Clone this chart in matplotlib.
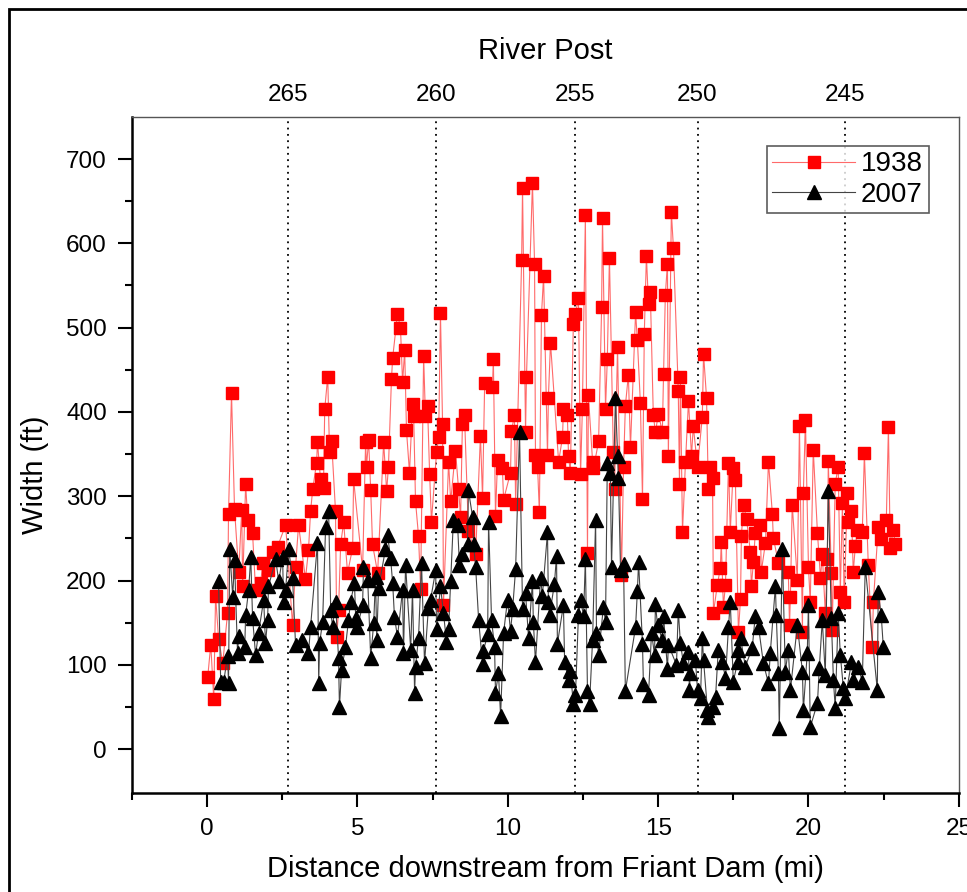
import numpy as np
import matplotlib
matplotlib.use('Agg')
import matplotlib.pyplot as plt
from matplotlib.patches import Rectangle

plt.rcParams['font.family'] = ['Liberation Sans', 'DejaVu Sans']

# 1938 widths (ft) vs distance downstream of Friant Dam (mi)
mi_1938 = [0.02, 0.12, 0.22, 0.28, 0.38, 0.52, 0.68, 0.71, 0.81, 0.91, 1.05, 1.15, 1.18, 1.28, 1.35,
           1.51, 1.61, 1.78, 1.85, 2.01, 2.18, 2.34, 2.61, 2.84, 2.94, 3.04, 3.27, 3.37, 3.44, 3.51,
           3.64, 3.67, 3.77, 3.87, 3.91, 4.01, 4.07, 4.14, 4.27, 4.31, 4.37, 4.44, 4.54, 4.67, 4.84,
           4.87, 5.17, 5.27, 5.30, 5.37, 5.44, 5.50, 5.67, 5.87, 5.97, 6.03, 6.13, 6.17, 6.33, 6.43,
           6.50, 6.57, 6.63, 6.73, 6.83, 6.87, 6.93, 7.03, 7.10, 7.20, 7.26, 7.33, 7.40, 7.46, 7.63,
           7.70, 7.76, 7.83, 7.86, 8.03, 8.10, 8.26, 8.36, 8.43, 8.49, 8.56, 8.69, 8.93, 9.09, 9.16,
           9.23, 9.49, 9.52, 9.59, 9.66, 9.82, 9.86, 10.09, 10.12, 10.22, 10.26, 10.46, 10.49, 10.59, 10.62,
           10.82, 10.89, 10.92, 10.99, 11.05, 11.12, 11.19, 11.32, 11.35, 11.42, 11.69, 11.82, 11.85, 11.98, 12.02,
           12.08, 12.18, 12.25, 12.35, 12.42, 12.48, 12.58, 12.65, 12.68, 12.82, 12.85, 13.02, 13.12, 13.15, 13.25,
           13.31, 13.38, 13.51, 13.55, 13.65, 13.78, 13.85, 13.91, 14.01, 14.08, 14.25, 14.31, 14.41, 14.48, 14.54,
           14.61, 14.68, 14.74, 14.84, 14.91, 15.01, 15.14, 15.18, 15.24, 15.31, 15.34, 15.44, 15.51, 15.67, 15.71,
           15.74, 15.81, 15.91, 16.01, 16.11, 16.17, 16.31, 16.47, 16.51, 16.61, 16.67, 16.74, 16.81, 16.84, 16.97,
           17.07, 17.10, 17.17, 17.24, 17.34, 17.40, 17.50, 17.57, 17.67, 17.74, 17.77, 17.84, 17.94, 18.07, 18.10,
           18.17, 18.23, 18.40, 18.43, 18.57, 18.67, 18.80, 18.83, 19.00, 19.33, 19.37, 19.40, 19.46, 19.63, 19.70,
           19.80, 19.83, 19.90, 20.00, 20.06, 20.16, 20.30, 20.40, 20.46, 20.56, 20.63, 20.66, 20.76, 20.79, 20.89,
           20.99, 21.06, 21.13, 21.19, 21.29, 21.33, 21.43, 21.49, 21.56, 21.63, 21.79, 21.86, 21.99, 22.12, 22.16,
           22.32, 22.42, 22.59, 22.66, 22.72, 22.82, 22.89]
w_1938 = [86, 124, 59, 182, 131, 102, 162, 279, 422, 285, 210, 284, 193, 314, 272,
          256, 189, 197, 221, 213, 234, 240, 266, 147, 216, 266, 202, 236, 282, 308,
          340, 364, 320, 310, 403, 442, 353, 365, 282, 133, 165, 243, 269, 209, 239,
          320, 213, 364, 335, 367, 307, 243, 209, 364, 306, 335, 439, 464, 516, 500,
          435, 473, 378, 328, 409, 395, 294, 253, 190, 466, 395, 407, 326, 270, 352,
          370, 517, 386, 171, 341, 294, 354, 309, 275, 386, 396, 259, 231, 372, 298,
          434, 430, 463, 277, 343, 333, 296, 328, 377, 396, 291, 580, 666, 376, 441,
          671, 576, 349, 335, 281, 515, 561, 349, 417, 482, 341, 370, 404, 396, 348,
          328, 504, 516, 535, 326, 403, 633, 233, 420, 341, 333, 365, 524, 630, 404,
          463, 583, 352, 309, 477, 207, 335, 407, 444, 358, 518, 485, 410, 297, 493,
          585, 528, 542, 396, 376, 398, 376, 445, 539, 576, 348, 637, 594, 425, 315,
          441, 258, 341, 413, 348, 383, 335, 394, 469, 417, 308, 335, 322, 162, 195,
          215, 246, 169, 195, 340, 258, 334, 319, 139, 178, 253, 290, 273, 234, 193,
          222, 256, 266, 210, 245, 341, 279, 251, 221, 210, 147, 181, 290, 201, 383,
          139, 304, 390, 216, 174, 355, 256, 203, 231, 162, 225, 342, 209, 141, 315,
          335, 186, 292, 175, 304, 269, 282, 210, 241, 260, 257, 351, 219, 121, 175,
          263, 249, 272, 382, 238, 260, 243]

# 2007 widths (ft)
mi_2007 = [0.38, 0.45, 0.55, 0.68, 0.71, 0.75, 0.85, 0.91, 1.01, 1.05, 1.25, 1.28, 1.38, 1.45, 1.51,
           1.61, 1.71, 1.88, 1.94, 2.01, 2.04, 2.28, 2.38, 2.51, 2.54, 2.61, 2.71, 2.84, 2.94, 3.17,
           3.37, 3.44, 3.67, 3.71, 3.74, 3.84, 3.94, 4.04, 4.11, 4.17, 4.27, 4.37, 4.40, 4.47, 4.60,
           4.70, 4.77, 4.90, 4.94, 5.00, 5.17, 5.20, 5.34, 5.44, 5.54, 5.60, 5.64, 5.70, 5.93, 6.00,
           6.10, 6.17, 6.23, 6.33, 6.50, 6.53, 6.60, 6.77, 6.83, 6.90, 6.93, 7.03, 7.13, 7.23, 7.36,
           7.43, 7.60, 7.63, 7.76, 7.86, 7.96, 8.03, 8.10, 8.19, 8.33, 8.39, 8.49, 8.66, 8.69, 8.83,
           8.86, 8.93, 9.03, 9.16, 9.19, 9.33, 9.36, 9.46, 9.56, 9.59, 9.69, 9.76, 9.86, 9.99, 10.09,
           10.16, 10.26, 10.39, 10.49, 10.59, 10.69, 10.82, 10.85, 10.92, 11.09, 11.15, 11.32, 11.35, 11.39, 11.55,
           11.62, 11.65, 11.85, 11.89, 12.02, 12.08, 12.18, 12.25, 12.35, 12.42, 12.52, 12.58, 12.65, 12.72, 12.82,
           12.92, 12.95, 13.02, 13.18, 13.25, 13.31, 13.41, 13.45, 13.58, 13.65, 13.68, 13.75, 13.85, 13.91, 14.25,
           14.31, 14.35, 14.48, 14.51, 14.68, 14.78, 14.88, 14.91, 14.98, 15.14, 15.18, 15.31, 15.34, 15.61, 15.67,
           15.74, 15.84, 16.01, 16.04, 16.07, 16.24, 16.31, 16.41, 16.47, 16.51, 16.64, 16.67, 16.81, 16.91, 17.00,
           17.14, 17.24, 17.34, 17.40, 17.50, 17.64, 17.67, 17.74, 17.90, 18.13, 18.23, 18.34, 18.50, 18.67, 18.73,
           18.90, 18.93, 19.00, 19.03, 19.13, 19.23, 19.33, 19.40, 19.63, 19.80, 19.83, 19.96, 20.00, 20.06, 20.30,
           20.36, 20.46, 20.56, 20.66, 20.76, 20.83, 20.89, 20.99, 21.06, 21.16, 21.23, 21.43, 21.49, 21.66, 21.79,
           21.89, 22.29, 22.32, 22.42, 22.49]
w_2007 = [199, 80, 80, 111, 78, 237, 181, 224, 114, 134, 121, 159, 189, 228, 156,
          112, 138, 177, 126, 153, 193, 225, 199, 228, 174, 189, 237, 203, 124, 130,
          114, 145, 245, 78, 126, 151, 264, 282, 165, 145, 175, 108, 50, 94, 121,
          153, 175, 197, 156, 145, 171, 216, 201, 108, 150, 204, 130, 191, 237, 254,
          227, 197, 157, 133, 189, 114, 219, 118, 189, 67, 98, 132, 221, 102, 168,
          177, 212, 142, 193, 162, 127, 143, 199, 272, 266, 219, 231, 243, 307, 275,
          243, 216, 153, 101, 117, 136, 270, 153, 121, 67, 90, 39, 138, 177, 140,
          166, 214, 376, 166, 185, 132, 199, 151, 103, 203, 182, 257, 175, 159, 196,
          229, 125, 171, 103, 82, 93, 54, 64, 159, 177, 158, 226, 69, 54, 130,
          272, 138, 112, 169, 151, 339, 328, 216, 417, 348, 322, 212, 220, 69, 145,
          188, 222, 125, 77, 64, 138, 112, 172, 147, 130, 158, 95, 124, 100, 165,
          126, 102, 115, 70, 90, 106, 70, 61, 132, 106, 46, 38, 50, 62, 118,
          103, 84, 145, 175, 80, 103, 118, 132, 98, 120, 158, 145, 102, 78, 114,
          193, 159, 90, 25, 237, 92, 118, 70, 147, 92, 46, 114, 171, 26, 55,
          96, 153, 88, 306, 156, 82, 49, 161, 112, 73, 61, 103, 82, 98, 80,
          216, 70, 186, 159, 121]

# River post markers (top axis)
post_labels = ['265', '260', '255', '250', '245']
post_miles = [2.68, 7.60, 12.25, 16.31, 21.23]

fig = plt.figure(figsize=(9.67, 8.92), dpi=100)
ax = fig.add_axes([0.1365, 0.111, 0.855, 0.758])

ax.plot(mi_1938, w_1938, color='#ff6a6a', lw=0.8, marker='s', ms=8,
        mfc='red', mec='red', label='1938', zorder=3)
ax.plot(mi_2007, w_2007, color='#444444', lw=0.8, marker='^', ms=10,
        mfc='black', mec='black', label='2007', zorder=4)

for m in post_miles:
    ax.axvline(m, color='black', ls=(0, (1, 2.5)), lw=1.3, zorder=1)

ax.set_xlim(-2.5, 25)
ax.set_ylim(-52, 750)
ax.set_xticks([0, 5, 10, 15, 20, 25])
ax.set_xticks(np.arange(-2.5, 25.1, 5), minor=True)
ax.set_yticks(range(0, 701, 100))
ax.set_yticks(range(50, 701, 100), minor=True)
ax.tick_params(which='major', direction='out', length=10, width=1.5, labelsize=17.5, pad=8)
ax.tick_params(which='minor', direction='out', length=5, width=1.5)
ax.tick_params(top=False, right=False)
ax.set_xlabel('Distance downstream from Friant Dam (mi)', fontsize=21, labelpad=11)

for s in ['left', 'bottom']:
    ax.spines[s].set_linewidth(1.8)
for s in ['top', 'right']:
    ax.spines[s].set_linewidth(1.0)
    ax.spines[s].set_color('#555555')

ax2 = ax.twiny()
ax2.set_xlim(ax.get_xlim())
ax2.set_xticks(post_miles)
ax2.set_xticklabels(post_labels)
ax2.tick_params(axis='x', length=0, labelsize=17.5, pad=8)
ax2.set_xlabel('River Post', fontsize=21, labelpad=18)
for s in ax2.spines.values():
    s.set_visible(False)

fig.text(0.036, 0.468, 'Width (ft)', rotation=90, fontsize=21, ha='center', va='center')

leg = ax.legend(loc='upper right', bbox_to_anchor=(0.9635, 0.957), fontsize=20,
                frameon=True, fancybox=False, handlelength=3.0, handletextpad=0.2,
                borderpad=0.2, labelspacing=0.15, borderaxespad=0)
leg.get_frame().set_edgecolor('#333333')
leg.get_frame().set_linewidth(1.2)

fig.patches.append(Rectangle((9 / 967, -0.1), 1.2, 1.1 - 9 / 892, transform=fig.transFigure,
                             fill=False, lw=2, ec='black'))

fig.savefig('out.png', dpi=100)
